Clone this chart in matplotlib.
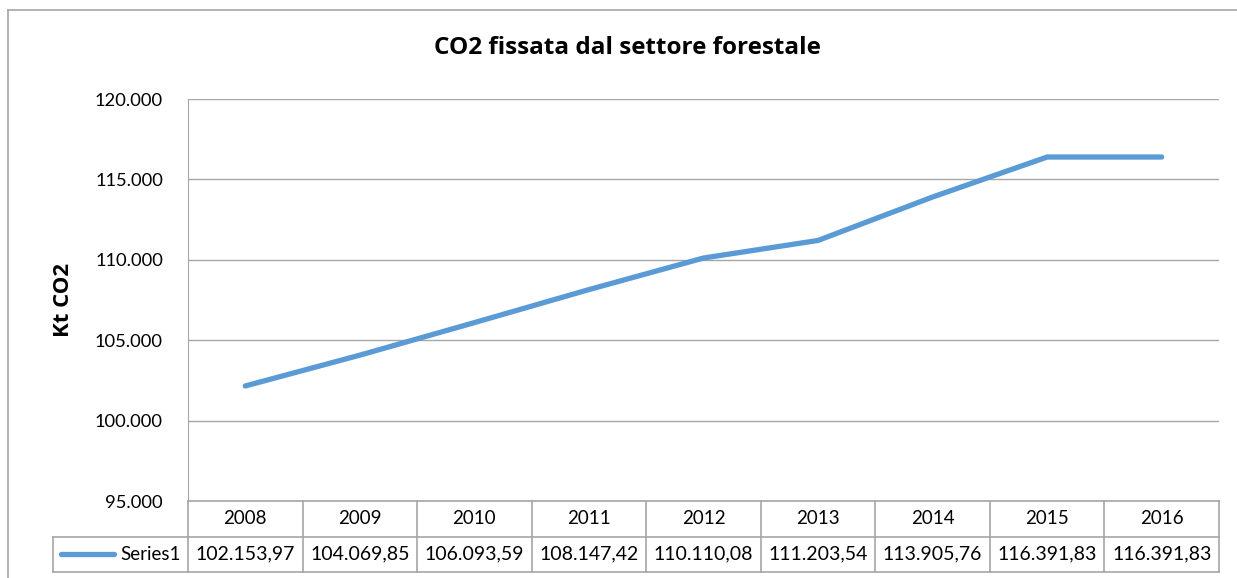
import matplotlib.pyplot as plt
from matplotlib.lines import Line2D

plt.rcParams['font.family'] = ['Lato', 'DejaVu Sans']

years = ['2008', '2009', '2010', '2011', '2012', '2013', '2014', '2015', '2016']
values = [102153.97, 104069.85, 106093.59, 108147.42, 110110.08,
          111203.54, 113905.76, 116391.83, 116391.83]
value_labels = ['102.153,97', '104.069,85', '106.093,59', '108.147,42', '110.110,08',
                '111.203,54', '113.905,76', '116.391,83', '116.391,83']
yticks = [95000, 100000, 105000, 110000, 115000, 120000]
ytick_labels = ['95.000', '100.000', '105.000', '110.000', '115.000', '120.000']
series_name = 'Series1'

W, H = 1237, 578
fig = plt.figure(figsize=(W / 100, H / 100), dpi=100)
blue = '#5B9BD5'
grey = '#A6A6A6'
bold_font = ['Open Sans', 'DejaVu Sans']


def fx(px):
    return px / W


def fy(py):
    return 1 - py / H


# outer chart border
fig.add_artist(Line2D([fx(8), fx(8)], [fy(10), 0], color=grey, lw=1.2))
fig.add_artist(Line2D([fx(8), 1], [fy(10), fy(10)], color=grey, lw=1.2))

# main plot
ax = fig.add_axes([fx(188), fy(501), fx(1219 - 188), (501 - 99) / H])
x = list(range(len(years)))
ax.plot(x, values, color=blue, lw=3.8, solid_capstyle='round', solid_joinstyle='round', zorder=3)
ax.set_xlim(-0.5, len(years) - 0.5)
ax.set_ylim(95000, 120000)
ax.set_yticks(yticks)
ax.set_yticklabels(ytick_labels, fontsize=13.2)
ax.tick_params(axis='y', length=0, pad=18)
ax.set_xticks([])
ax.grid(axis='y', color=grey, lw=1)
for s in ['top', 'right', 'bottom']:
    ax.spines[s].set_visible(False)
ax.spines['left'].set_color(grey)
ax.set_ylabel('Kt CO2', fontsize=16, fontweight='bold', family=bold_font)
ax.yaxis.set_label_coords((74 - 188) / 1031, 0.5)

fig.text(fx(627), fy(48), 'CO2 fissata dal settore forestale', ha='center', va='center',
         fontsize=17.5, fontweight='bold', family=bold_font)

# data table below the plot
tb = fig.add_axes([fx(188), fy(572), fx(1219 - 188), (572 - 501) / H])
tb.set_xlim(-0.5, len(years) - 0.5)
tb.set_ylim(0, 2)
tb.axis('off')
n = len(years)
for yy in [0, 1, 2]:
    tb.plot([-0.5, n - 0.5], [yy, yy], color=grey, lw=1.2, clip_on=False)
for i in range(n + 1):
    tb.plot([i - 0.5, i - 0.5], [0, 2], color=grey, lw=1.2, clip_on=False)
for i in range(n):
    tb.text(i, 1.5, years[i], ha='center', va='center', fontsize=13.5)
    tb.text(i, 0.5, value_labels[i], ha='center', va='center', fontsize=14)

# legend cell
cell_left = -0.5 - (188 - 53) / (1031 / n)
tb.plot([cell_left, -0.5], [1, 1], color=grey, lw=1.2, clip_on=False)
tb.plot([cell_left, -0.5], [0, 0], color=grey, lw=1.2, clip_on=False)
tb.plot([cell_left, cell_left], [0, 1], color=grey, lw=1.2, clip_on=False)
key_l = -0.5 - (188 - 61) / (1031 / n)
key_r = -0.5 - (188 - 114) / (1031 / n)
tb.plot([key_l, key_r], [0.5, 0.5], color=blue, lw=3.8, solid_capstyle='round', clip_on=False)
tb.text(-0.5 - 7 / (1031 / n), 0.5, series_name, ha='right', va='center', fontsize=13.5)

fig.savefig('out.png', dpi=100)
